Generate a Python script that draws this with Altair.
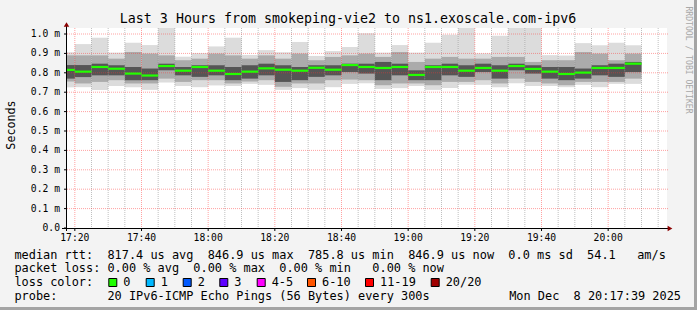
import altair as alt
import pandas as pd

MONO = "DejaVu Sans Mono"

# ---- data (values in milliseconds) ----
starts = ["17:15", "17:20", "17:25", "17:30", "17:35", "17:40", "17:45", "17:50", "17:55",
          "18:00", "18:05", "18:10", "18:15", "18:20", "18:25", "18:30", "18:35", "18:40",
          "18:45", "18:50", "18:55", "19:00", "19:05", "19:10", "19:15", "19:20", "19:25",
          "19:30", "19:35", "19:40", "19:45", "19:50", "19:55", "20:00", "20:05"]
median = [0.815, 0.806, 0.830, 0.821, 0.796, 0.786, 0.835, 0.811, 0.830, 0.811, 0.794, 0.806,
          0.823, 0.816, 0.811, 0.826, 0.816, 0.840, 0.830, 0.825, 0.830, 0.789, 0.830, 0.830,
          0.811, 0.825, 0.811, 0.835, 0.820, 0.806, 0.794, 0.801, 0.825, 0.825, 0.847]
vmax = [0.906, 0.948, 0.981, 0.904, 0.955, 0.943, 1.031, 0.883, 0.901, 0.936, 0.981, 0.892,
        0.917, 0.906, 0.959, 0.887, 0.912, 0.933, 1.004, 0.904, 0.943, 0.904, 0.955, 0.996,
        1.031, 0.900, 0.991, 1.031, 1.031, 0.891, 0.889, 0.953, 0.942, 0.955, 0.942]
hi2 = [0.890, 0.890, 0.890, 0.873, 0.907, 0.899, 0.890, 0.865, 0.873, 0.899, 0.890, 0.873,
       0.890, 0.873, 0.899, 0.865, 0.882, 0.890, 0.899, 0.882, 0.907, 0.856, 0.873, 0.882,
       0.873, 0.873, 0.882, 0.882, 0.856, 0.865, 0.865, 0.907, 0.899, 0.865, 0.899]
hi1 = [0.840, 0.840, 0.847, 0.839, 0.830, 0.822, 0.847, 0.830, 0.839, 0.839, 0.830, 0.839,
       0.847, 0.839, 0.830, 0.839, 0.839, 0.847, 0.847, 0.856, 0.847, 0.813, 0.839, 0.847,
       0.839, 0.847, 0.839, 0.847, 0.839, 0.830, 0.830, 0.822, 0.839, 0.847, 0.856]
lo1 = [0.770, 0.778, 0.787, 0.787, 0.762, 0.762, 0.813, 0.787, 0.779, 0.787, 0.762, 0.770,
       0.787, 0.753, 0.762, 0.779, 0.787, 0.804, 0.796, 0.762, 0.787, 0.762, 0.762, 0.787,
       0.779, 0.804, 0.770, 0.813, 0.796, 0.770, 0.762, 0.770, 0.787, 0.779, 0.804]
lo2 = [0.755, 0.745, 0.753, 0.762, 0.745, 0.745, 0.770, 0.753, 0.762, 0.762, 0.745, 0.755,
       0.762, 0.728, 0.745, 0.745, 0.762, 0.765, 0.762, 0.736, 0.745, 0.745, 0.736, 0.753,
       0.753, 0.762, 0.745, 0.770, 0.753, 0.745, 0.736, 0.753, 0.753, 0.753, 0.770]
vmin = [0.725, 0.726, 0.712, 0.732, 0.726, 0.712, 0.750, 0.732, 0.726, 0.735, 0.732, 0.743,
        0.738, 0.712, 0.721, 0.712, 0.726, 0.743, 0.746, 0.717, 0.721, 0.732, 0.712, 0.722,
        0.738, 0.738, 0.726, 0.746, 0.732, 0.732, 0.726, 0.738, 0.726, 0.743, 0.743]
STEP_MIN = 5  # 300 s per bar

x_ticks = ["17:20", "17:40", "18:00", "18:20", "18:40", "19:00", "19:20", "19:40", "20:00"]
y_ticks = [0.0, 0.1, 0.2, 0.3, 0.4, 0.5, 0.6, 0.7, 0.8, 0.9, 1.0]
y_labels = ["0.0", "0.1 m", "0.2 m", "0.3 m", "0.4 m", "0.5 m", "0.6 m", "0.7 m", "0.8 m",
            "0.9 m", "1.0 m"]
view_start, view_end = "17:17:39", "20:17:39"
y_top = 1.031

loss_labels = ["0", "1", "2", "3", "4-5", "6-10", "11-19", "20/20"]
loss_colors = ["#20ff00", "#00b8ff", "#0059ff", "#5e00ff", "#ff00ff", "#ff5500", "#ff0000", "#a00000"]

title = "Last 3 Hours from smokeping-vie2 to ns1.exoscale.com-ipv6"
line1 = "median rtt:  817.4 us avg  846.9 us max  785.8 us min  846.9 us now  0.0 ms sd  54.1   am/s"
line2 = "packet loss: 0.00 % avg  0.00 % max  0.00 % min   0.00 % now"
line3 = "loss color:"
line4 = "probe:       20 IPv6-ICMP Echo Pings (56 Bytes) every 300s"
stamp = "Mon Dec  8 20:17:39 2025"


def to_min(s):
    parts = [int(p) for p in s.split(":")]
    sec = parts[2] if len(parts) > 2 else 0
    return (parts[0] - 17) * 60 + parts[1] + sec / 60.0


def nb(s):
    return s.replace(" ", "\u00a0")


df = pd.DataFrame({
    "t0": [to_min(s) for s in starts],
    "median": median, "vmax": vmax, "hi2": hi2, "hi1": hi1,
    "lo1": lo1, "lo2": lo2, "vmin": vmin,
})
df["t1"] = df["t0"] + STEP_MIN

xs = alt.Scale(domain=[to_min(view_start), to_min(view_end)], nice=False, zero=False)
ys = alt.Scale(domain=[0, y_top], nice=False, zero=True)


def X(f):
    return alt.X(f, scale=xs, axis=None)


def Y(f):
    return alt.Y(f, scale=ys, axis=None)


base = alt.Chart(df)
outer = base.mark_rect(color="#dcdcdc", clip=True).encode(
    x=X("t0:Q"), x2="t1", y=Y("vmin:Q"), y2="vmax")
mid = base.mark_rect(color="#ababab", clip=True).encode(
    x=X("t0:Q"), x2="t1", y=Y("lo2:Q"), y2="hi2")
inner = base.mark_rect(color="#555555", clip=True).encode(
    x=X("t0:Q"), x2="t1", y=Y("lo1:Q"), y2="hi1")

# grid lines
t_lo, t_hi = to_min(view_start), to_min(view_end)
minor_t = [m for m in range(0, 200, 5) if t_lo < m < t_hi and m % 20 != 0]
xt = pd.DataFrame({"t": [to_min(t) for t in x_ticks], "lab": x_ticks})
yt = pd.DataFrame({"v": y_ticks, "lab": [nb(s) for s in y_labels]})

gminor = alt.Chart(pd.DataFrame({"t": minor_t})).mark_rule(
    color="#8c8c8c", opacity=0.55, strokeDash=[1, 1], strokeWidth=1).encode(
    x=X("t:Q"), y=alt.value(0), y2=alt.value(200))
gmajor = alt.Chart(xt).mark_rule(
    color="#ff3030", opacity=0.45, strokeDash=[1, 1], strokeWidth=1).encode(
    x=X("t:Q"), y=alt.value(0), y2=alt.value(200))
ghor = alt.Chart(yt[yt["v"] > 0]).mark_rule(
    color="#ff3030", opacity=0.45, strokeDash=[1, 1], strokeWidth=1).encode(
    y=Y("v:Q"), x=alt.value(0), x2=alt.value(601))

med_line = base.mark_rule(color="#22ff00", strokeWidth=2.2, clip=True).encode(
    x=X("t0:Q"), x2="t1", y=Y("median:Q"))

# axis ticks and labels (through the scales)
xtick = alt.Chart(xt).mark_rule(color="#000", strokeWidth=1).encode(
    x=X("t:Q"), y=alt.value(200), y2=alt.value(203))
ytick = alt.Chart(yt).mark_rule(color="#000", strokeWidth=1).encode(
    y=Y("v:Q"), x=alt.value(-3), x2=alt.value(0))
xlab = alt.Chart(xt).mark_text(font=MONO, fontSize=9.7, align="center", baseline="top",
                               color="#000").encode(x=X("t:Q"), y=alt.value(205), text="lab:N")
ylab = alt.Chart(yt).mark_text(font=MONO, fontSize=9.7, align="right", baseline="middle",
                               color="#000").encode(y=Y("v:Q"), x=alt.value(-7), text="lab:N")

dummy = pd.DataFrame({"k": [0]})


def deco(c):
    return alt.Chart(dummy).mark_rule(color="#000", strokeWidth=1).encode(**c)


xline = deco(dict(x=alt.value(-5), x2=alt.value(601), y=alt.value(200.5)))
yline = deco(dict(x=alt.value(-0.5), y=alt.value(-3), y2=alt.value(203)))
arrow_up = alt.Chart(dummy).mark_point(shape="triangle-up", filled=True, color="#8b0000",
                                       size=30, opacity=1).encode(x=alt.value(-0.5), y=alt.value(-3.5))
arrow_right = alt.Chart(dummy).mark_point(shape="triangle-right", filled=True, color="#8b0000",
                                          size=30, opacity=1).encode(x=alt.value(603), y=alt.value(200.5))

LEG = 11.9


def txt(s, x, y, size=LEG, align="left", angle=0, color="#000"):
    return alt.Chart(dummy).mark_text(text=nb(s), font=MONO, fontSize=size, align=align,
                                      baseline="middle", angle=angle, color=color).encode(
        x=alt.value(x), y=alt.value(y))


texts = [
    txt(title, 281, -9, size=13.3, align="center"),
    txt("Seconds", -56, 97, size=11.7, align="center", angle=270),
    txt("RRDTOOL / TOBI OETIKER", 621, 32, size=8.1, align="center", angle=90, color="#a8a8a8"),
    txt(line1, -52.6, 226.5),
    txt(line2, -52.6, 240.3),
    txt(line3, -52.6, 254.2),
    txt(line4, -52.6, 268.2),
    txt(stamp, 614, 268.2, align="right"),
]

box_x = [108.3, 145.7, 182.7, 219.3, 256.7, 307.0, 365.0, 430.7]
boxes = []
for bx, lab, col in zip(box_x, loss_labels, loss_colors):
    boxes.append(alt.Chart(dummy).mark_rect(color=col, stroke="#000", strokeWidth=1).encode(
        x=alt.value(bx - 67 + 0.5), x2=alt.value(bx - 67 + 8.5),
        y=alt.value(250.5), y2=alt.value(258.5)))
    boxes.append(txt(lab, bx - 67 + 15, 254.2))

# frame shading (rrdtool 3D border)
frame_b = alt.Chart(dummy).mark_rect(color="#a4a4a4").encode(
    x=alt.value(-67), x2=alt.value(630), y=alt.value(279), y2=alt.value(282))
frame_r = alt.Chart(dummy).mark_rect(color="#a4a4a4").encode(
    x=alt.value(627), x2=alt.value(630), y=alt.value(-28), y2=alt.value(282))

chart = alt.layer(
    outer, mid, inner, gminor, gmajor, ghor, med_line,
    xtick, ytick, xlab, ylab,
    xline, yline, arrow_up, arrow_right, *texts, *boxes, frame_b, frame_r
).properties(
    width=600, height=200, autosize="none",
    padding={"left": 67, "top": 28, "right": 30, "bottom": 82},
    background="#f3f3f3",
).configure_view(fill="#ffffff", stroke=None).configure_axis(grid=False)

chart.save("out.html", embed_options={"renderer": "svg", "actions": False})
